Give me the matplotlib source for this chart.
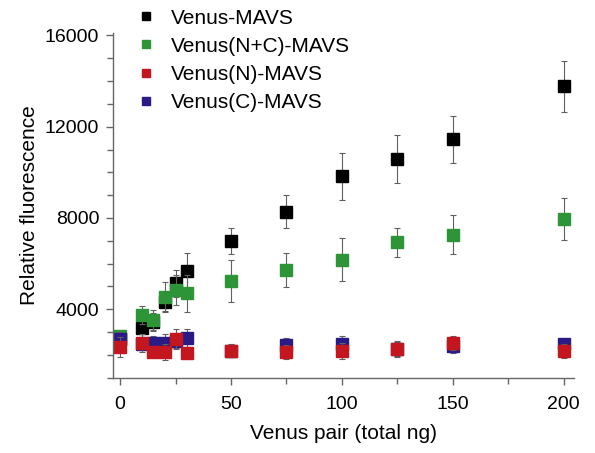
import matplotlib.pyplot as plt
import numpy as np

plt.rcParams.update({
    "font.family": ["Liberation Sans", "DejaVu Sans"],
    "font.size": 14,
})

ng = [0, 10, 15, 20, 25, 30, 50, 75, 100, 125, 150, 200]

venus = [2700, 3170, 3450, 4330, 5140, 5690, 6990, 8280, 9820, 10590, 11450, 13760]
venus_err = [200, 400, 400, 400, 580, 760, 550, 720, 1020, 1050, 1030, 1100]

venus_nc = [2830, 3750, 3530, 4550, 4850, 4700, 5250, 5720, 6170, 6940, 7270, 7940]
venus_nc_err = [200, 400, 440, 650, 650, 800, 930, 750, 940, 640, 850, 920]

venus_n = [2340, 2540, 2140, 2140, 2690, 2100, 2190, 2140, 2170, 2250, 2530, 2170]
venus_n_err = [450, 400, 250, 350, 450, 250, 300, 300, 350, 350, 300, 300]

venus_c = [2690, 2500, 2510, 2510, 2600, 2730, 2170, 2440, 2470, 2250, 2380, 2470]
venus_c_err = [300, 300, 300, 400, 300, 400, 250, 300, 350, 300, 300, 200]

series = [
    ("Venus-MAVS", venus, venus_err, "#000000"),
    ("Venus(N+C)-MAVS", venus_nc, venus_nc_err, "#2e9438"),
    ("Venus(C)-MAVS", venus_c, venus_c_err, "#2a1a86"),
    ("Venus(N)-MAVS", venus_n, venus_n_err, "#c4161e"),
]

fig = plt.figure(figsize=(5.95, 4.53), dpi=100)
ax = fig.add_axes([0.190, 0.166, 0.775, 0.761])

handles = {}
for label, y, err, color in series:
    ax.errorbar(ng, y, yerr=err, fmt="none", ecolor="#606060",
                elinewidth=0.8, capsize=2.5, capthick=0.8)
    h, = ax.plot(ng, y, "s", ms=8.5, color=color, mec=color, label=label)
    handles[label] = h

order = ["Venus-MAVS", "Venus(N+C)-MAVS", "Venus(N)-MAVS", "Venus(C)-MAVS"]
fig.legend([handles[k] for k in order], order, loc="upper left",
           bbox_to_anchor=(0.2, 1.018), frameon=False, markerscale=0.75,
           handlelength=1.0, handletextpad=0.7, labelspacing=0.44,
           borderpad=0.3, fontsize=15)

ax.set_xlim(-3.2, 204.7)
ax.set_ylim(1000, 16100)
ax.set_xticks([0, 50, 100, 150, 200])
ax.set_xticks(np.arange(25, 200, 50), minor=True)
ax.set_yticks([4000, 8000, 12000, 16000])
ax.set_yticks(np.arange(1000, 16001, 1000), minor=True)

for side in ("top", "right"):
    ax.spines[side].set_visible(False)
for side in ("left", "bottom"):
    ax.spines[side].set_color("#666666")
    ax.spines[side].set_linewidth(1.0)
ax.tick_params(which="both", direction="out", color="#666666", width=1.0,
               labelsize=14)
ax.tick_params(which="major", length=5, pad=5)
ax.tick_params(axis="x", which="major", pad=8)
ax.tick_params(which="minor", length=4)

ax.set_xlabel("Venus pair (total ng)", fontsize=15, labelpad=8)
ax.set_ylabel("Relative fluorescence", fontsize=15, labelpad=4)

fig.savefig("out.png", dpi=100)
